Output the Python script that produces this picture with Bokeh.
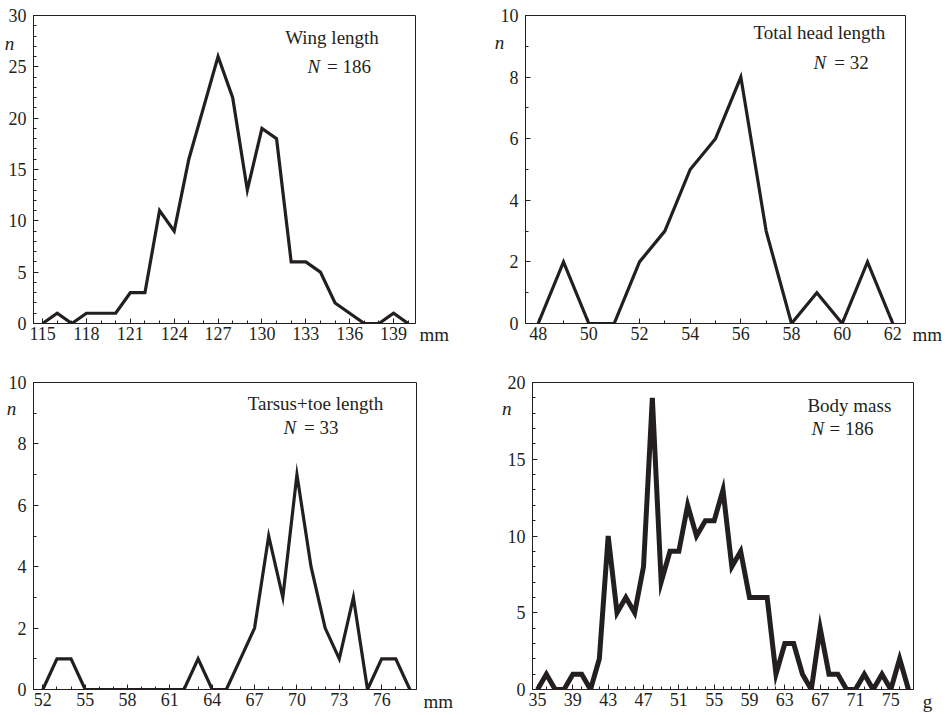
from bokeh.plotting import figure
from bokeh.models import Label, FixedTicker, SingleIntervalTicker, Range1d
from bokeh.layouts import column, row
from bokeh.embed import file_html
from bokeh.resources import INLINE

# ---------------- data ----------------
wing_mm = list(range(115, 141))
wing_n = [0, 1, 0, 1, 1, 1, 3, 3, 11, 9, 16, 21, 26, 22, 13, 19, 18, 6, 6, 5, 2, 1, 0, 0, 1, 0]
wing_ticks = [115, 118, 121, 124, 127, 130, 133, 136, 139]

head_mm = list(range(48, 63))
head_n = [0, 2, 0, 0, 2, 3, 5, 6, 8, 3, 0, 1, 0, 2, 0]
head_ticks = [48, 50, 52, 54, 56, 58, 60, 62]

tarsus_mm = list(range(52, 79))
tarsus_n = [0, 1, 1, 0, 0, 0, 0, 0, 0, 0, 0, 1, 0, 0, 1, 2, 5, 3, 7, 4, 2, 1, 3, 0, 1, 1, 0]
tarsus_ticks = [52, 55, 58, 61, 64, 67, 70, 73, 76]

mass_g = list(range(35, 78))
mass_n = [0, 1, 0, 0, 1, 1, 0, 2, 10, 5, 6, 5, 8, 19, 7, 9, 9, 12, 10, 11, 11, 13,
          8, 9, 6, 6, 6, 1, 3, 3, 1, 0, 4, 1, 1, 0, 0, 1, 0, 1, 0, 2, 0]
mass_ticks = [35, 39, 43, 47, 51, 55, 59, 63, 67, 71, 75]

titles = ["Wing length", "Total head length", "Tarsus+toe length", "Body mass"]
counts = ["= 186", "= 32", "= 33", "= 186"]
units = ["mm", "mm", "mm", "g"]

INK = "#231f20"
FONT = "Liberation Serif"
TICK_FS = "18px"
TXT_FS = "19px"


def panel(xs, ys, xr, yr, xticks, yint, yminor, fw, fh, L, R, T, B, lw,
          title, title_xy, count, nx, cx, cy, ny_xy, unit, unit_xy):
    p = figure(frame_width=fw, frame_height=fh, min_border_left=L, min_border_right=R,
               min_border_top=T, min_border_bottom=B, x_range=Range1d(*xr),
               y_range=Range1d(*yr), toolbar_location=None, output_backend="svg")
    p.grid.visible = False
    p.outline_line_color = INK
    p.outline_line_width = 1
    p.background_fill_color = "white"
    p.border_fill_color = "white"
    p.line(xs, ys, line_color=INK, line_width=lw, line_join="miter")
    xminor = list(range(int(xs[0]), int(xs[-1]) + 1))
    p.xaxis.ticker = FixedTicker(ticks=xticks, minor_ticks=xminor)
    p.yaxis.ticker = SingleIntervalTicker(interval=yint, num_minor_ticks=yminor)
    for ax in (p.xaxis[0], p.yaxis[0]):
        ax.axis_line_color = INK
        ax.major_tick_line_color = INK
        ax.minor_tick_line_color = INK
        ax.major_tick_in = 5
        ax.major_tick_out = 0
        ax.minor_tick_in = 3
        ax.minor_tick_out = 0
        ax.major_label_text_font = FONT
        ax.major_label_text_font_size = TICK_FS
        ax.major_label_text_color = INK
    p.yaxis.major_label_standoff = 7
    p.xaxis.major_label_standoff = 3

    def lab(x, y, t, align="center", style="normal", place=None):
        lbl = Label(x=x, y=y, text=t, text_font=FONT, text_font_size=TXT_FS,
                    text_color=INK, text_align=align, text_baseline="middle",
                    text_font_style=style)
        if place is None:
            p.add_layout(lbl)
        else:
            p.add_layout(lbl, place)

    lab(title_xy[0], title_xy[1], title)
    lab(nx, cy, "N", "left", "italic")
    lab(cx, cy, count, "left")
    # texts outside the frame: put them in a side panel so they are not clipped
    lab(ny_xy[0], ny_xy[1], "n", "center", "italic", "right")
    lab(unit_xy[0], unit_xy[1], unit, "left", "normal", "right")
    return p


p1 = panel(wing_mm, wing_n, (114.38, 140.5), (0, 30), wing_ticks, 5, 5,
           382, 308, 33, 60, 15, 32, 3.2,
           titles[0], (134.79, 27.85), counts[0], 133.11, 134.45, 25.0,
           (112.74, 27.31), units[0], (140.77, -1.07))
p2 = panel(head_mm, head_n, (47.5, 62.5), (0, 10), head_ticks, 2, 2,
           380, 308, 50, 46, 15, 32, 3.2,
           titles[1], (59.1, 9.45), counts[1], 58.87, 59.69, 8.47,
           (46.47, 9.12), units[1], (62.78, -0.357))
p3 = panel(tarsus_mm, tarsus_n, (51.34, 78.47), (0, 10), tarsus_ticks, 2, 2,
           383, 307, 33, 59, 27, 26, 3.2,
           titles[2], (71.31, 9.31), counts[2], 69.05, 70.50, 8.53,
           (49.78, 9.14), units[2], (78.96, -0.39))
p4 = panel(mass_g, mass_n, (34.43, 77.57), (0, 20), mass_ticks, 5, 5,
           381, 307, 57, 38, 27, 26, 5,
           titles[3], (70.31, 18.48), counts[3], 66.03, 68.05, 16.98,
           (31.52, 18.28), units[3], (78.63, -0.75))

layout = column(row(p1, p2), row(p3, p4))
open("out.html", "w").write(file_html(layout, INLINE))
